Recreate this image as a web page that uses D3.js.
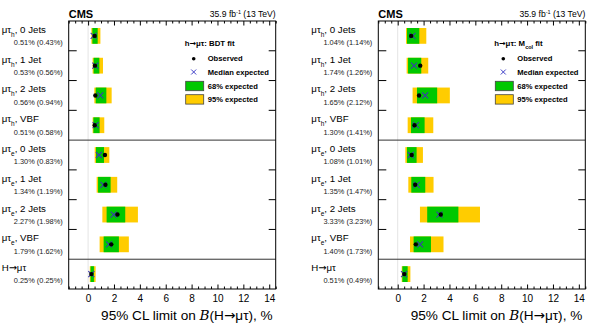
<!DOCTYPE html>
<html>
<head>
<meta charset="utf-8">
<title></title>
<script src="https://cdn.jsdelivr.net/npm/d3@7"></script>
<style>
body { margin: 0; background: #fff; }
text { font-family: "Liberation Sans", Arial, sans-serif; fill: #000; }
.arr { font-family: "DejaVu Sans", sans-serif; }
</style>
</head>
<body>
<script>
// category labels
var channels = ["h", "h", "h", "h", "e", "e", "e", "e", ""];
var jets = ["0 Jets", "1 Jet", "2 Jets", "VBF", "0 Jets", "1 Jet", "2 Jets", "VBF", ""];

// left: BDT fit
var bdtObs = [0.51, 0.53, 0.56, 0.51, 1.30, 1.34, 2.27, 1.79, 0.25];
var bdtExp = [0.43, 0.56, 0.94, 0.58, 0.83, 1.19, 1.98, 1.62, 0.25];
var bdtLo68 = [0.33, 0.43, 0.59, 0.41, 0.61, 0.77, 1.43, 1.20, 0.19];
var bdtHi68 = [0.74, 0.87, 1.41, 0.89, 1.23, 1.74, 2.87, 2.38, 0.45];
var bdtLo95 = [0.25, 0.35, 0.48, 0.35, 0.51, 0.66, 1.10, 0.89, 0.13];
var bdtHi95 = [0.95, 1.15, 1.82, 1.25, 1.64, 2.25, 3.85, 3.15, 0.58];

// right: M_col fit
var colObs = [1.04, 1.74, 1.65, 1.30, 1.08, 1.35, 3.33, 1.40, 0.51];
var colExp = [1.14, 1.26, 2.12, 1.41, 1.01, 1.47, 3.23, 1.73, 0.49];
var colLo68 = [0.72, 0.80, 1.49, 1.03, 0.72, 1.05, 2.28, 1.23, 0.36];
var colHi68 = [1.67, 1.82, 3.05, 2.08, 1.46, 2.13, 4.69, 2.57, 0.77];
var colLo95 = [0.64, 0.69, 1.15, 0.77, 0.59, 0.82, 1.72, 0.95, 0.31];
var colHi95 = [2.21, 2.36, 4.03, 2.75, 1.95, 2.77, 6.36, 3.54, 0.98];

var xTicks = [0, 2, 4, 6, 8, 10, 12, 14];

var svg = d3.select("body").append("svg")
    .attr("width", 592)
    .attr("height", 328);

var top_ = 21, bottom = 289, panelW = 207;

function arrowText(sel, before, after) {
  sel.append("tspan").text(before);
  sel.append("tspan").attr("class", "arr").text("\u2192");
  sel.append("tspan").text(after);
}

function drawPanel(left, obs, exp, lo68, hi68, lo95, hi95, fitName, fitSub) {
  var g = svg.append("g");
  var x = d3.scaleLinear().domain([-1.5, 14.5]).range([left, left + panelW]);
  var y = d3.scaleBand().domain(d3.range(obs.length)).range([top_, bottom]);
  var bh = y.bandwidth() * 0.53;
  var minor = d3.range(-1.5, 14.51, 0.5).filter(function(v){ return v % 2 !== 0; });

  // x = 0 guide
  g.append("line")
    .attr("x1", x(0)).attr("x2", x(0))
    .attr("y1", top_).attr("y2", bottom)
    .style("stroke", "#e4e4e4").style("stroke-width", 1);

  var rows = g.selectAll(".row").data(obs).enter().append("g")
    .attr("class", "row");

  rows.append("rect")
    .attr("x", function(d, i){ return x(lo95[i]); })
    .attr("width", function(d, i){ return x(hi95[i]) - x(lo95[i]); })
    .attr("y", function(d, i){ return y(i) + y.bandwidth()/2 - bh/2; })
    .attr("height", bh)
    .style("fill", "#ffcc00");
  rows.append("rect")
    .attr("x", function(d, i){ return x(lo68[i]); })
    .attr("width", function(d, i){ return x(hi68[i]) - x(lo68[i]); })
    .attr("y", function(d, i){ return y(i) + y.bandwidth()/2 - bh/2; })
    .attr("height", bh)
    .style("fill", "#00c800");

  // median expected
  rows.append("path")
    .attr("d", function(d, i){
      var cx = x(exp[i]), cy = y(i) + y.bandwidth()/2, s = 3;
      return "M" + (cx-s) + "," + (cy-s) + "L" + (cx+s) + "," + (cy+s) +
             "M" + (cx-s) + "," + (cy+s) + "L" + (cx+s) + "," + (cy-s);
    })
    .style("stroke", "#3a3ab0").style("stroke-width", 1.1).style("fill", "none");
  // observed
  rows.append("circle")
    .attr("cx", function(d){ return x(d); })
    .attr("cy", function(d, i){ return y(i) + y.bandwidth()/2; })
    .attr("r", 2.2)
    .style("fill", "#000");

  // labels
  rows.each(function(d, i){
    var t = d3.select(this).append("text")
      .attr("x", left - 67)
      .attr("y", y(i) + y.bandwidth()/2 - 3)
      .style("font-size", "9.7px");
    if (channels[i]) {
      t.append("tspan").text("\u03bc\u03c4");
      t.append("tspan").attr("dy", 4).style("font-size", "6.5px").text(channels[i]);
      t.append("tspan").attr("dy", -4).text(", " + jets[i]);
    } else {
      arrowText(t, "H", "\u03bc\u03c4");
    }
    d3.select(this).append("text")
      .attr("x", left - 6)
      .attr("y", y(i) + y.bandwidth()/2 + 9.3)
      .attr("text-anchor", "end")
      .style("font-size", "7.4px")
      .style("fill", "#222")
      .text(d3.format(".2f")(d) + "% (" + d3.format(".2f")(exp[i]) + "%)");
  });

  // row boundary ticks and separators
  d3.range(1, obs.length).forEach(function(i){
    var yy = y(i);
    if (i === 4 || i === 8) {
      g.append("line").attr("x1", left).attr("x2", left + panelW)
        .attr("y1", yy).attr("y2", yy)
        .style("stroke", "#333").style("stroke-width", 1);
    } else {
      g.append("line").attr("x1", left).attr("x2", left + 8)
        .attr("y1", yy).attr("y2", yy).style("stroke", "#000");
      g.append("line").attr("x1", left + panelW - 7).attr("x2", left + panelW)
        .attr("y1", yy).attr("y2", yy).style("stroke", "#000");
    }
  });

  // frame
  g.append("rect")
    .attr("x", left).attr("y", top_)
    .attr("width", panelW).attr("height", bottom - top_)
    .style("fill", "none").style("stroke", "#000").style("stroke-width", 1);

  // axes
  var xAxis = d3.axisBottom(x).tickValues(xTicks).tickSize(-4.5).tickPadding(6)
    .tickFormat(d3.format("d"));
  var ax = g.append("g").attr("transform", "translate(0," + bottom + ")").call(xAxis);
  ax.select(".domain").remove();
  ax.selectAll("text").style("font-size", "10px");
  var axm = g.append("g").attr("transform", "translate(0," + bottom + ")")
    .call(d3.axisBottom(x).tickValues(minor).tickSize(-2.5).tickFormat(""));
  axm.select(".domain").remove();

  var at = g.append("g").attr("transform", "translate(0," + top_ + ")")
    .call(d3.axisTop(x).tickValues(xTicks).tickSize(-4.5).tickFormat(""));
  at.select(".domain").remove();
  var atm = g.append("g").attr("transform", "translate(0," + top_ + ")")
    .call(d3.axisTop(x).tickValues(minor).tickSize(-2.5).tickFormat(""));
  atm.select(".domain").remove();

  // axis title
  var tt = g.append("text")
    .attr("x", left + panelW - 3).attr("y", 319.5)
    .attr("text-anchor", "end")
    .style("font-size", "13.6px");
  tt.append("tspan").text("95% CL limit on ");
  tt.append("tspan").style("font-style", "italic").style("font-family", "'DejaVu Serif', serif").text("B");
  arrowText(tt, "(H", "\u03bc\u03c4), %");

  // header
  g.append("text").attr("x", left).attr("y", 17.5)
    .style("font-size", "11px").style("font-weight", "bold").text("CMS");
  var hd = g.append("text").attr("x", left + panelW).attr("y", 17)
    .attr("text-anchor", "end").style("font-size", "8.6px");
  hd.append("tspan").text("35.9 fb");
  hd.append("tspan").attr("dy", -3).style("font-size", "5.5px").text("-1");
  hd.append("tspan").attr("dy", 3).text(" (13 TeV)");

  // legend
  var lx = left + 116;
  var lt = g.append("text").attr("x", lx).attr("y", 46)
    .style("font-size", "7.8px").style("font-weight", "bold");
  arrowText(lt, "h", "\u03bc\u03c4: " + fitName);
  if (fitSub) {
    lt.append("tspan").attr("dy", 2.5).style("font-size", "5.5px").text(fitSub);
    lt.append("tspan").attr("dy", -2.5).text(" fit");
  }
  g.append("circle").attr("cx", lx + 9).attr("cy", 58.7).attr("r", 1.8).style("fill", "#000");
  g.append("path")
    .attr("d", "M" + (lx+6.5) + ",69.5L" + (lx+11.5) + ",74.5M" + (lx+6.5) + ",74.5L" + (lx+11.5) + ",69.5")
    .style("stroke", "#4040c8").style("stroke-width", 1);
  g.append("rect").attr("x", lx + 1).attr("y", 81.3).attr("width", 18).attr("height", 9.4)
    .style("fill", "#00c800").style("stroke", "#444").style("stroke-width", 0.8);
  g.append("rect").attr("x", lx + 1).attr("y", 94.7).attr("width", 18).attr("height", 9.4)
    .style("fill", "#ffcc00").style("stroke", "#444").style("stroke-width", 0.8);
  var labels = ["Observed", "Median expected", "68% expected", "95% expected"];
  var ly = [61.3, 74.6, 88.5, 101.9];
  labels.forEach(function(s, i){
    g.append("text").attr("x", lx + 23).attr("y", ly[i])
      .style("font-size", "7.6px").style("font-weight", "bold").text(s);
  });
}

drawPanel(68.7, bdtObs, bdtExp, bdtLo68, bdtHi68, bdtLo95, bdtHi95, "BDT fit", null);
drawPanel(378.3, colObs, colExp, colLo68, colHi68, colLo95, colHi95, "M", "col");
</script>
</body>
</html>
